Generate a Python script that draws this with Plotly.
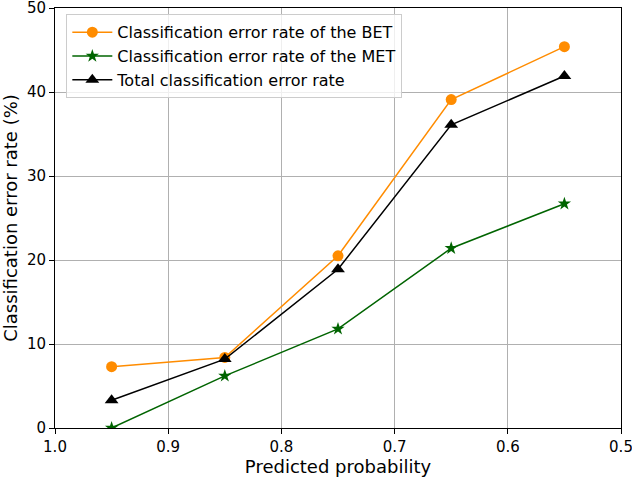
import plotly.graph_objects as go

prob = [0.95, 0.85, 0.75, 0.65, 0.55]
bet_error = [7.3, 8.4, 20.5, 39.1, 45.4]
met_error = [0.0, 6.2, 11.8, 21.4, 26.7]
total_error = [3.3, 8.2, 18.9, 36.1, 41.9]

fig = go.Figure()
fig.add_trace(go.Scatter(x=prob, y=bet_error, mode='lines+markers',
                         name='Classification error rate of the BET',
                         line=dict(color='darkorange', width=1.5),
                         marker=dict(symbol='circle', size=11, color='darkorange')))
fig.add_trace(go.Scatter(x=prob, y=met_error, mode='lines+markers',
                         name='Classification error rate of the MET',
                         line=dict(color='darkgreen', width=1.5),
                         marker=dict(symbol='star', size=10, color='darkgreen')))
fig.add_trace(go.Scatter(x=prob, y=total_error, mode='lines+markers',
                         name='Total classification error rate',
                         line=dict(color='black', width=1.5),
                         marker=dict(symbol='triangle-up', size=12, color='black')))

axis_style = dict(
    showline=True, linecolor='black', linewidth=1, mirror=True,
    ticks='outside', ticklen=5, tickcolor='black', ticklabeloverflow='allow',
    showgrid=True, gridcolor='#b0b0b0', gridwidth=1, zeroline=False,
)
fig.update_xaxes(range=[1.0, 0.5], dtick=0.1, tickformat='.1f',
                 title=dict(text='Predicted probability', standoff=4), **axis_style)
fig.update_yaxes(range=[0, 50], dtick=10,
                 title=dict(text='Classification error rate (%)', standoff=6), **axis_style)

fig.update_layout(
    width=632, height=478,
    margin=dict(l=55, r=11, t=8, b=50, autoexpand=False),
    plot_bgcolor='white', paper_bgcolor='white',
    font=dict(family='DejaVu Sans', size=15, color='black'),
    legend=dict(x=0.02, y=0.985, xanchor='left', yanchor='top',
                bgcolor='rgba(255,255,255,0.8)', bordercolor='#cccccc', borderwidth=1,
                font=dict(size=16), tracegroupgap=0, itemwidth=40),
    showlegend=True,
)

# drop the page's default body margin so the figure sits at the window's corner
fig.write_html("out.html", config={'displayModeBar': False},
               post_script="document.body.style.margin='0';")
